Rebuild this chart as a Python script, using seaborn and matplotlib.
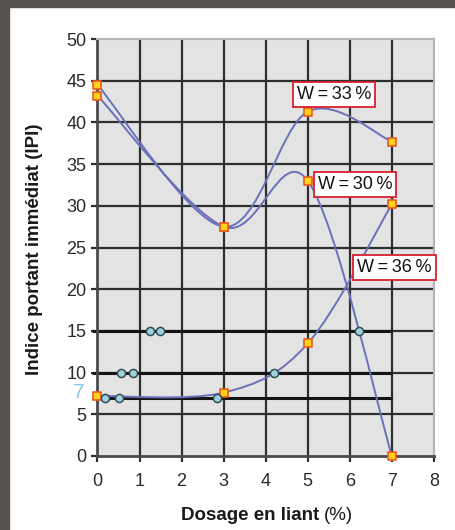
import pandas as pd
import matplotlib
matplotlib.use("Agg")
import matplotlib.pyplot as plt
from matplotlib.path import Path
from matplotlib.patches import PathPatch, Rectangle
import seaborn as sns

# data
dosage = [0, 3, 5, 7]
ipi_w33 = [44.5, 27.5, 41.3, 37.7]
ipi_w30 = [43.2, 27.5, 33.0, 0.0]
ipi_w36 = [7.2, 7.6, 13.5, 30.2]
series_names = ["W=33%", "W=30%", "W=36%"]

# horizontal reading lines (IPI levels) and where they cross the curves
read_levels = [15, 10, 7]
read_x15 = [1.26, 1.49, 6.21]
read_x10 = [0.56, 0.84, 4.20]
read_x7 = [0.18, 0.50, 2.83]

x_ticks = list(range(0, 9))
y_ticks = list(range(0, 51, 5))

# label box positions (data coords)
label_pos = [(5.62, 43.4), (6.12, 32.5), (7.06, 22.6)]

CURVE = "#6a71b9"
GRID = "#2e2e2e"


def smooth_path(xs, ys):
    # excel-like smoothed line: cubic bezier through the points
    pts = list(zip(xs, ys))
    n = len(pts)
    verts = [pts[0]]
    codes = [Path.MOVETO]
    for i in range(n - 1):
        p0 = pts[i - 1] if i > 0 else pts[i]
        p1 = pts[i]
        p2 = pts[i + 1]
        p3 = pts[i + 2] if i + 2 < n else pts[i + 1]
        c1 = (p1[0] + (p2[0] - p0[0]) / 6, p1[1] + (p2[1] - p0[1]) / 6)
        c2 = (p2[0] - (p3[0] - p1[0]) / 6, p2[1] - (p3[1] - p1[1]) / 6)
        verts += [c1, c2, p2]
        codes += [Path.CURVE4] * 3
    return Path(verts, codes)


sns.set_style("ticks")
plt.rcParams["font.family"] = ["Liberation Sans", "DejaVu Sans"]

fig = plt.figure(figsize=(4.56, 5.30), dpi=100)
ax = fig.add_axes([97.5 / 456, 1 - 456 / 530, 336.5 / 456, 417 / 530])
ax.set_facecolor("#e3e3e3")

# dark page border
fig.patches.append(Rectangle((0, 1 - 7 / 530), 1, 7 / 530, transform=fig.transFigure,
                             color="#57524e", zorder=0))
fig.patches.append(Rectangle((0, 0), 9.5 / 456, 1, transform=fig.transFigure,
                             color="#57524e", zorder=0))

ax.set_xlim(0, 8)
ax.set_ylim(0, 50)
ax.set_xticks(x_ticks)
ax.set_yticks(y_ticks)

# grid, leaving out the outer frame lines
for t in x_ticks[1:-1]:
    ax.axvline(t, color=GRID, lw=1.6, zorder=1)
for t in y_ticks[1:-1]:
    ax.axhline(t, color=GRID, lw=1.6, zorder=1)

for sp in ["left", "bottom"]:
    ax.spines[sp].set_color("#4a4a4a")
    ax.spines[sp].set_linewidth(2)
for sp in ["top", "right"]:
    ax.spines[sp].set_color("#b4b4b4")
    ax.spines[sp].set_linewidth(1.5)

ax.tick_params(axis="both", direction="out", length=4, width=1.6, color=GRID,
               labelsize=13, labelcolor="#2a2a2a")
ax.tick_params(axis="x", pad=8)
ax.tick_params(axis="y", pad=4)

# reading lines
ax.hlines(read_levels, -0.12, max(dosage), color="#151515", lw=2.2, zorder=2, clip_on=False)

# smoothed curves
for ys in [ipi_w33, ipi_w30, ipi_w36]:
    ax.add_patch(PathPatch(smooth_path(dosage, ys), fill=False, edgecolor=CURVE,
                           lw=1.4, zorder=3, clip_on=False))

pts = pd.DataFrame({
    "dosage": dosage * 3,
    "ipi": ipi_w33 + ipi_w30 + ipi_w36,
    "serie": [s for s in series_names for _ in dosage],
})
sns.scatterplot(data=pts, x="dosage", y="ipi", marker="s", s=26, color="#ffd21f",
                edgecolor="#ec5a1c", linewidth=1.2, zorder=5, clip_on=False, ax=ax,
                legend=False)

reads = pd.DataFrame({
    "dosage": read_x15 + read_x10 + read_x7,
    "ipi": [read_levels[0]] * 3 + [read_levels[1]] * 3 + [read_levels[2]] * 3,
})
sns.scatterplot(data=reads, x="dosage", y="ipi", marker="o", s=34, color="#9dd2de",
                edgecolor="#2f4f55", linewidth=1.1, zorder=6, ax=ax, legend=False)

for name, (lx, ly) in zip(series_names, label_pos):
    txt = name.replace("=", "\u2009=\u2009").replace("%", "\u2009%")
    ax.text(lx, ly, txt, ha="center", va="center", fontsize=13, color="#111111",
            zorder=7, clip_on=False,
            bbox=dict(boxstyle="square,pad=0.22", facecolor="white",
                      edgecolor="#d9202e", lw=1.3))

# the "7" level marker on the y axis
ax.text(-0.3, 7.6, "7", ha="right", va="center", fontsize=15, color="#8cc6e4",
        clip_on=False)

ax.set_xlabel("")
ax.set_ylabel("")
fig.text(35 / 456, 1 - 249 / 530, "Indice portant immédiat (IPI)", rotation=90,
         ha="center", va="center", fontsize=13.5, fontweight="bold", color="#1a1a1a")
fig.text(319 / 456, 1 - 516 / 530, "Dosage en liant", ha="right", va="center",
         fontsize=13.5, fontweight="bold", color="#1a1a1a")
fig.text(324 / 456, 1 - 516 / 530, "(%)", ha="left", va="center",
         fontsize=13.5, color="#1a1a1a")

fig.savefig("out.png", dpi=100, facecolor="white")
